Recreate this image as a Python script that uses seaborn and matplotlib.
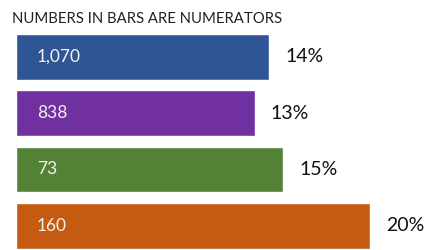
import matplotlib
matplotlib.use("Agg")
import matplotlib.pyplot as plt
import seaborn as sns
import pandas as pd

# --- data ---
groups = ["Group 1", "Group 2", "Group 3", "Group 4"]
rates = [14.3, 13.5, 15.1, 20.0]          # bar length (percent)
rate_labels = ["14%", "13%", "15%", "20%"]
numerators = ["1,070", "838", "73", "160"]
colors = ["#2F5597", "#7030A0", "#548235", "#C55A11"]

df = pd.DataFrame({"group": groups, "rate": rates})

sns.set_style("white")
plt.rcParams["font.family"] = ["Lato", "DejaVu Sans"]

fig = plt.figure(figsize=(4.26, 2.5), dpi=100)
ax = fig.add_axes([16 / 426, 0, 410 / 426, 1])

sns.barplot(data=df, x="rate", y="group", hue="group", palette=colors,
            orient="h", width=0.81, legend=False, ax=ax, saturation=1)

ax.set_xlim(0, 20 * 410 / 354)
ax.set_ylim(3.43, -1.01)
ax.axis("off")

# percent labels at bar ends
for cont, lab in zip(ax.containers, rate_labels):
    ax.bar_label(cont, labels=[lab], padding=11.5, fontsize=14, color="#111111")

# numerators inside bars
for i, num in enumerate(numerators):
    ax.annotate(num, xy=(0, i), xytext=(15, 0), textcoords="offset points",
                va="center", ha="left", fontsize=12.5, color="#F2F2F2")

fig.text(12 / 426, 1 - 23 / 250, "NUMBERS IN BARS ARE NUMERATORS",
         va="baseline", ha="left", fontsize=10.7, color="#222222")

fig.savefig("out.png", dpi=100)
